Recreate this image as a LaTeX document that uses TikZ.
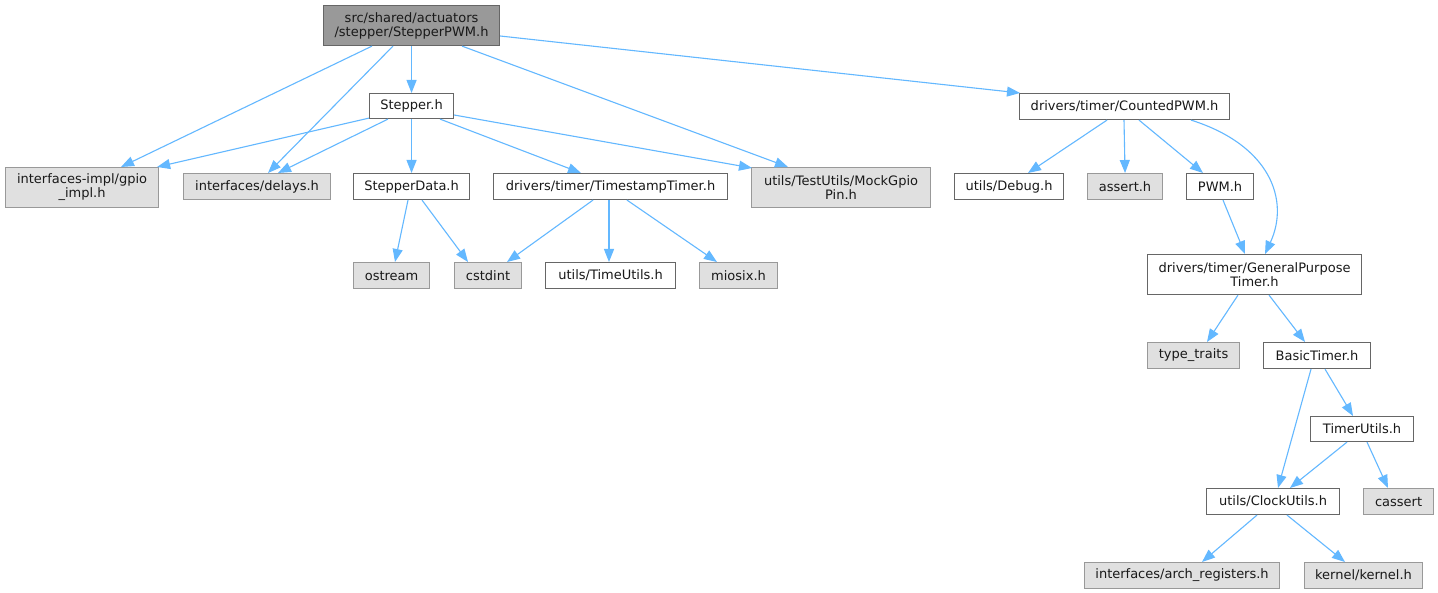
\documentclass[tikz,border=0pt]{standalone}
\usepackage{fontspec}
\setmainfont{DejaVu Sans}
\usetikzlibrary{arrows.meta,calc}
\definecolor{edgeblue}{HTML}{63B8FF}
\definecolor{rootfill}{HTML}{999999}
\definecolor{rootdraw}{HTML}{666666}
\definecolor{extfill}{HTML}{E0E0E0}
\definecolor{extdraw}{HTML}{999999}
\definecolor{docdraw}{HTML}{666666}
\begin{document}
\begin{tikzpicture}[x=1pt,y=-1pt,
  base/.style={anchor=north west, inner sep=0pt, align=center, line width=1.1pt,
    font=\fontsize{13}{14}\selectfont, text=black!90},
  rootbox/.style={base, draw=rootdraw, fill=rootfill},
  docbox/.style={base, draw=docdraw, fill=white},
  extbox/.style={base, draw=extdraw, fill=extfill},
  dep/.style={draw=edgeblue, line width=1.1pt, -{Triangle[length=13pt,width=10pt]}}
]
\useasboundingbox (0,0) rectangle (1438,593);
\fill[white] (0,0) rectangle (1438,593);

% nodes
\node[rootbox, minimum width=176, minimum height=40] (pwm) at (323,5) {src/shared/actuators\\/stepper/StepperPWM.h};
\node[docbox, minimum width=84, minimum height=25] (stepper) at (369,93) {Stepper.h};
\node[extbox, minimum width=153, minimum height=40] (gpio) at (5,167) {interfaces-impl/gpio\\\_impl.h};
\node[extbox, minimum width=147, minimum height=26] (delays) at (183,173) {interfaces/delays.h};
\node[docbox, minimum width=116, minimum height=26] (sdata) at (353,173) {StepperData.h};
\node[docbox, minimum width=234, minimum height=26] (tstimer) at (493,173) {drivers/timer/TimestampTimer.h};
\node[extbox, minimum width=179, minimum height=40] (mock) at (751,167) {utils/TestUtils/MockGpio\\Pin.h};
\node[docbox, minimum width=210, minimum height=26] (counted) at (1019,93) {drivers/timer/CountedPWM.h};
\node[docbox, minimum width=109, minimum height=26] (debug) at (954,173) {utils/Debug.h};
\node[extbox, minimum width=75, minimum height=26] (assert) at (1087,173) {assert.h};
\node[docbox, minimum width=67, minimum height=26] (pwmh) at (1186,173) {PWM.h};
\node[docbox, minimum width=214, minimum height=40] (gpt) at (1147,254) {drivers/timer/GeneralPurpose\\Timer.h};
\node[extbox, minimum width=76, minimum height=26] (ostream) at (353,262) {ostream};
\node[extbox, minimum width=67, minimum height=26] (cstdint) at (454,262) {cstdint};
\node[docbox, minimum width=130, minimum height=26] (timeutils) at (545,262) {utils/TimeUtils.h};
\node[extbox, minimum width=78, minimum height=26] (miosix) at (699,262) {miosix.h};
\node[extbox, minimum width=92, minimum height=26] (typetraits) at (1147,342) {type\_traits};
\node[docbox, minimum width=107, minimum height=26] (basic) at (1263,342) {BasicTimer.h};
\node[docbox, minimum width=103, minimum height=25] (timerutils) at (1310,416) {TimerUtils.h};
\node[docbox, minimum width=133, minimum height=26] (clock) at (1206,488) {utils/ClockUtils.h};
\node[extbox, minimum width=70, minimum height=26] (cassert) at (1363,488) {cassert};
\node[extbox, minimum width=195, minimum height=26] (arch) at (1084,562) {interfaces/arch\_registers.h};
\node[extbox, minimum width=118, minimum height=26] (kernel) at (1304,562) {kernel/kernel.h};

% edges
\draw[dep] ($(pwm.south west)+(49,0)$) -- ($(gpio.north west)+(116,0)$);
\draw[dep] ($(pwm.south west)+(70,0)$) -- ($(delays.north west)+(85,0)$);
\draw[dep] (pwm.south) -- (stepper.north);
\draw[dep] ($(pwm.south west)+(139,0)$) -- ($(mock.north west)+(37,0)$);
\draw[dep] ($(pwm.north east)+(0,31)$) -- ($(counted.north west)+(1,0)$);

\draw[dep] ($(stepper.south west)+(0,-1)$) -- ($(gpio.north east)+(-2,0)$);
\draw[dep] ($(stepper.south west)+(19,0)$) -- ($(delays.north west)+(95,0)$);
\draw[dep] (stepper.south) -- (sdata.north);
\draw[dep] ($(stepper.south west)+(71,0)$) -- ($(tstimer.north west)+(88,0)$);
\draw[dep] ($(stepper.north east)+(0,22)$) -- ($(mock.north west)+(1,1)$);

\draw[dep] ($(sdata.south west)+(55,0)$) -- ($(ostream.north west)+(42,0)$);
\draw[dep] ($(sdata.south west)+(69,0)$) -- ($(cstdint.north west)+(14,0)$);

\draw[dep] ($(tstimer.south west)+(100,0)$) -- ($(cstdint.north west)+(53,0)$);
\draw[dep] ($(tstimer.south west)+(116,0)$) -- ($(timeutils.north west)+(64,0)$);
\draw[dep] ($(tstimer.south west)+(134,0)$) -- ($(miosix.north west)+(18,0)$);

\draw[dep] ($(counted.south west)+(88,0)$) -- ($(debug.north west)+(74,0)$);
\draw[dep] ($(counted.south west)+(105,0)$) -- (assert.north);
\draw[dep] ($(counted.south west)+(120,0)$) -- ($(pwmh.north west)+(17,0)$);
\coordinate (c1) at (1270,145);
\coordinate (c2) at (1290,200);
\draw[dep] ($(counted.south west)+(172,0)$) .. controls (c1) and (c2) .. ($(gpt.north west)+(118,0)$);

\draw[dep] ($(pwmh.south west)+(37,0)$) -- ($(gpt.north west)+(98,0)$);

\draw[dep] ($(gpt.south west)+(91,0)$) -- ($(typetraits.north west)+(60,0)$);
\draw[dep] ($(gpt.south west)+(122,0)$) -- ($(basic.north west)+(42,0)$);

\draw[dep] ($(basic.south west)+(48,0)$) -- ($(clock.north west)+(72,0)$);
\draw[dep] ($(basic.south west)+(62,0)$) -- ($(timerutils.north west)+(43,0)$);

\draw[dep] ($(timerutils.south west)+(37,0)$) -- ($(clock.north west)+(84,0)$);
\draw[dep] ($(timerutils.south west)+(57,0)$) -- ($(cassert.north west)+(25,0)$);

\draw[dep] ($(clock.south west)+(51,0)$) -- ($(arch.north west)+(118,0)$);
\draw[dep] ($(clock.south west)+(81,0)$) -- ($(kernel.north west)+(41,0)$);
\end{tikzpicture}
\end{document}
